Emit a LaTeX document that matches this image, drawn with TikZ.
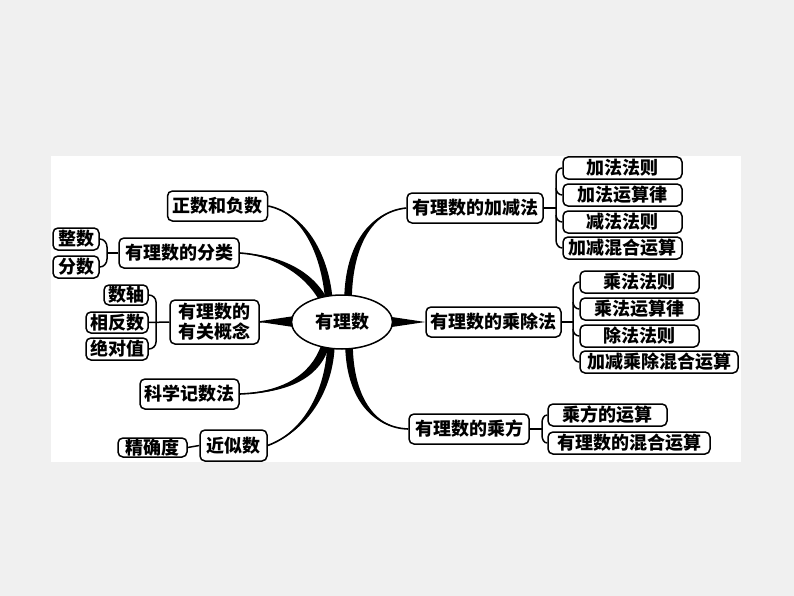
\documentclass[tikz,border=0pt]{standalone}
\usepackage{fontspec}
\newfontfamily\cjk{Noto Sans CJK SC}
\usetikzlibrary{calc,shapes.geometric}
\newcommand\taper[5]{%
  \fill #1 .. controls ($#2+0.5*#5$) and ($#3+#5$) .. ($#4+#5$) -- ($#4-#5$) .. controls ($#3-#5$) and ($#2-0.5*#5$) .. #1 -- cycle;
  \draw[line width=1.6pt] #1 .. controls #2 and #3 .. #4;}
\begin{document}
\begin{tikzpicture}[x=1pt,y=-1pt,
  box/.style={draw, line width=1.5pt, rounded corners=5pt, inner sep=0pt, fill=white,
    font=\cjk\bfseries\fontsize{18}{20}\selectfont, align=center},
  lk/.style={line width=1.5pt}]
\fill[black!6] (0,0) rectangle (794,596);
\fill[white] (51,156) rectangle (741,462);
\useasboundingbox (0,0) rectangle (794,596);

% nodes left
\node[box, minimum width=100pt, minimum height=30pt] (zf) at (217.5,206) {正数和负数};
\node[box, minimum width=120pt, minimum height=30pt] (fl) at (179,253) {有理数的分类};
\node[box, minimum width=46pt, minimum height=22pt] (zs) at (76,239) {整数};
\node[box, minimum width=46pt, minimum height=22pt] (fs) at (76,267) {分数};
\node[box, minimum width=89pt, minimum height=44pt] (gn) at (214.5,322) {有理数的\\有关概念};
\node[box, minimum width=44pt, minimum height=20pt] (sz) at (126,295) {数轴};
\node[box, minimum width=62pt, minimum height=21pt] (xf) at (117,322.5) {相反数};
\node[box, minimum width=62pt, minimum height=22pt] (jd) at (117,349) {绝对值};
\node[box, minimum width=99pt, minimum height=30pt] (kx) at (189.5,394) {科学记数法};
\node[box, minimum width=67pt, minimum height=31pt] (js) at (233.5,445.5) {近似数};
\node[box, minimum width=69pt, minimum height=19pt] (jq) at (152.5,447.5) {精确度};

% nodes right
\node[box, minimum width=136pt, minimum height=30pt] (jj) at (475,208) {有理数的加减法};
\node[box, minimum width=119pt, minimum height=22pt] (r1) at (622.5,168) {加法法则};
\node[box, minimum width=119pt, minimum height=22pt] (r2) at (622.5,195) {加法运算律};
\node[box, minimum width=119pt, minimum height=22pt] (r3) at (622.5,222) {减法法则};
\node[box, minimum width=119pt, minimum height=22pt] (r4) at (622.5,248) {加减混合运算};
\node[box, minimum width=135pt, minimum height=30pt] (cc) at (493.5,322) {有理数的乘除法};
\node[box, minimum width=119pt, minimum height=22pt] (m1) at (639.5,282) {乘法法则};
\node[box, minimum width=119pt, minimum height=22pt] (m2) at (639.5,309) {乘法运算律};
\node[box, minimum width=119pt, minimum height=22pt] (m3) at (639.5,336) {除法法则};
\node[box, minimum width=158pt, minimum height=22pt] (m4) at (659,362) {加减乘除混合运算};
\node[box, minimum width=120pt, minimum height=30pt] (cf) at (469,429) {有理数的乘方};
\node[box, minimum width=119pt, minimum height=22pt] (p1) at (607.5,415) {乘方的运算};
\node[box, minimum width=162pt, minimum height=22pt] (p2) at (629,443) {有理数的混合运算};

% branches
\coordinate (q1) at (329,302);
\coordinate (q2) at (325,303);
\coordinate (q4) at (326,343);
\coordinate (q5) at (331,343);
\coordinate (q6) at (348,302);
\coordinate (q8) at (349,343);
\taper{(zf.east)}{(306,214)}{(326,258)}{(q1)}{(3.8,0)}
\taper{(fl.east)}{(282,256)}{(312,276)}{(q2)}{(3,-2.6)}
\taper{(kx.east)}{(292,392)}{(318,372)}{(q4)}{(3.4,2.4)}
\taper{(js.east)}{(304,432)}{(330,392)}{(q5)}{(3.8,0)}
\taper{(jj.west)}{(368,212)}{(348,250)}{(q6)}{(3.8,0)}
\taper{(cf.west)}{(372,428)}{(349,395)}{(q8)}{(3.8,0)}
\coordinate (w1) at (300,316);
\coordinate (w2) at (300,328);
\fill (gn.east) -- (w1) -- (w2) -- cycle;
\draw[line width=1.6pt] (gn.east) -- (w1);
\coordinate (w3) at (385,316);
\coordinate (w4) at (385,328);
\fill (cc.west) -- (w3) -- (w4) -- cycle;
\node[box, ellipse, rounded corners=0pt, minimum width=101pt, minimum height=54pt] (root) at (342,322) {有理数};

% brackets left
\coordinate (b1) at (107,253);
\draw[lk] (zs.east) to[out=0,in=90] (107,247) -- (107,259) to[out=-90,in=0] (fs.east);
\draw[lk] (b1) -- (fl.west);
\coordinate (b2) at (156,322);
\draw[lk] (sz.east) to[out=0,in=90] (156,302) -- (156,342) to[out=-90,in=0] (jd.east);
\draw[lk] (xf.east) -- (gn.west);
\draw[lk] (jq.east) -- (js.west);

% brackets right
\coordinate (c1) at (556,208);
\draw[lk] (jj.east) -- (c1);
\draw[lk] (r1.west) to[out=180,in=90] (556,176) -- (556,240) to[out=-90,in=180] (r4.west);
\draw[lk] (556,188) to[out=-90,in=180] (r2.west);
\draw[lk] (556,215) to[out=-90,in=180] (r3.west);
\coordinate (c2) at (573,322);
\draw[lk] (cc.east) -- (c2);
\draw[lk] (m1.west) to[out=180,in=90] (573,290) -- (573,354) to[out=-90,in=180] (m4.west);
\draw[lk] (573,302) to[out=-90,in=180] (m2.west);
\draw[lk] (573,329) to[out=-90,in=180] (m3.west);
\coordinate (c3) at (542,429);
\draw[lk] (cf.east) -- (c3);
\draw[lk] (p1.west) to[out=180,in=90] (542,423) -- (542,435) to[out=-90,in=180] (p2.west);
\end{tikzpicture}
\end{document}
